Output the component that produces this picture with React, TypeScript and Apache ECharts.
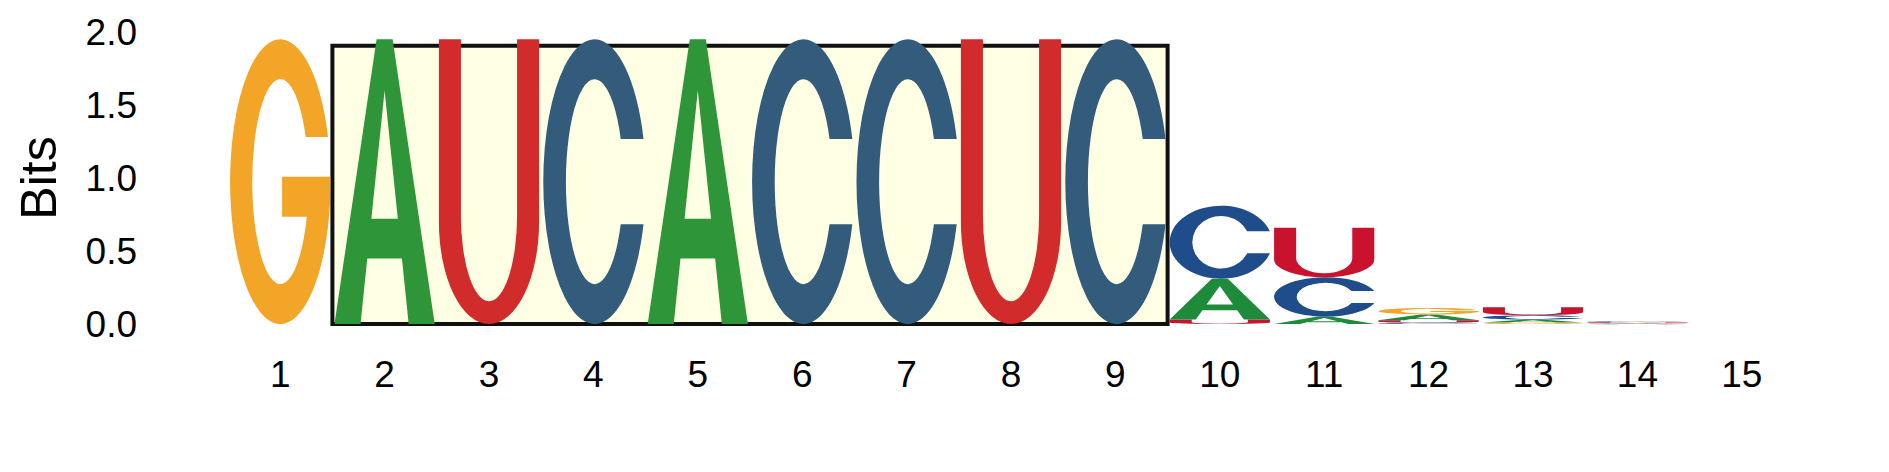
import React, { useEffect, useRef } from "react";
import * as echarts from "echarts";

// sequence logo: information content (bits) of each nucleotide per position
const positions = ["1", "2", "3", "4", "5", "6", "7", "8", "9", "10", "11", "12", "13", "14", "15"];
const bitsA = [0, 1.95, 0, 0, 1.95, 0, 0, 0, 0, 0.28, 0.05, 0.04, 0.02, 0.002, 0];
const bitsC = [0, 0, 0, 1.95, 0, 1.95, 1.95, 0, 1.95, 0.5, 0.27, 0.01, 0.03, 0.008, 0];
const bitsG = [1.95, 0, 0, 0, 0, 0, 0, 0, 0, 0, 0, 0.045, 0.01, 0.002, 0];
const bitsU = [0, 0, 1.95, 0, 0, 0, 0, 1.95, 0, 0.03, 0.34, 0.015, 0.055, 0.006, 0];
const yTicks = [0, 0.5, 1, 1.5, 2];

// highlighted motif: positions 2..9
const highlightFrom = 2;
const highlightTo = 9;
const highlightTop = 1.906;

const letters = ["A", "C", "G", "U"];
const glyphs: Record<string, string> = {
    A: "M0 100 L42 0 L58 0 L100 100 L74 100 L67.3 77 L32.7 77 L26 100 Z M36.8 63 L63.2 63 L50 18 Z",
    C: "M97.7 35 A50 50 0 1 0 97.7 65 L75.5 65 A28 36 0 1 1 75.5 35 Z",
    G: "M97.7 33 A50 50 0 1 0 99.7 56 L100 47 L52 47 L52 61 L76.6 61 A28 36 0 1 1 75.5 33 Z",
    U: "M0 0 L22 0 L22 62 A28 30 0 0 0 78 62 L78 0 L100 0 L100 64 A50 36 0 0 1 0 64 Z",
};
const insideColors: Record<string, string> = {
    A: "#2e9638",
    C: "#335b7b",
    G: "#f2a526",
    U: "#d22b2b",
};
const outsideColors: Record<string, string> = {
    A: "#1e8b3b",
    C: "#1f4c8b",
    G: "#f2a526",
    U: "#c8122e",
};

const FONT = "'Liberation Sans', Arial, sans-serif";

const App: React.FC = () => {
    const chartRef = useRef<HTMLDivElement>(null);

    useEffect(() => {
        document.body.style.margin = "0";
        const chart = echarts.init(chartRef.current!, null, { renderer: "svg" });

        const table: Record<string, number[]> = { A: bitsA, C: bitsC, G: bitsG, U: bitsU };
        // stack letters: smallest at the bottom
        const stacks: number[][] = [];
        positions.forEach((_, i) => {
            const col = letters
                .map((l, k) => ({ k, h: table[l][i] }))
                .filter((d) => d.h > 0)
                .sort((a, b) => a.h - b.h);
            let base = 0;
            col.forEach((d) => {
                stacks.push([i, base, base + d.h, d.k]);
                base += d.h;
            });
        });

        chart.setOption({
            animation: false,
            grid: { left: 228, right: 95, top: 32, bottom: 148 },
            xAxis: {
                type: "category",
                data: positions,
                axisLine: { show: false },
                axisTick: { show: false },
                axisLabel: { fontSize: 37, color: "#000", fontFamily: FONT, margin: 32 },
            },
            yAxis: {
                type: "value",
                min: yTicks[0],
                max: yTicks[yTicks.length - 1],
                interval: 0.5,
                name: "Bits",
                nameLocation: "middle",
                nameGap: 164,
                nameTextStyle: { fontSize: 50, color: "#000", fontFamily: FONT },
                axisLine: { show: false },
                axisTick: { show: false },
                splitLine: { show: false },
                axisLabel: {
                    fontSize: 37,
                    color: "#000",
                    fontFamily: FONT,
                    margin: 91,
                    formatter: (v: number) => v.toFixed(1),
                },
            },
            series: [
                {
                    type: "custom",
                    z: 1,
                    data: [[highlightFrom - 1, highlightTo - 1, 0, highlightTop]],
                    renderItem: (params: any, api: any) => {
                        const a = api.coord([api.value(0), api.value(2)]);
                        const b = api.coord([api.value(1), api.value(3)]);
                        const bw = api.size([1, 0])[0];
                        return {
                            type: "rect",
                            shape: { x: a[0] - bw / 2, y: b[1], width: b[0] - a[0] + bw, height: a[1] - b[1] },
                            style: { fill: "#ffffe4", stroke: "#111", lineWidth: 4 },
                        };
                    },
                },
                {
                    type: "custom",
                    z: 2,
                    data: stacks,
                    renderItem: (params: any, api: any) => {
                        const x = api.value(0);
                        const p0 = api.coord([x, api.value(1)]);
                        const p1 = api.coord([x, api.value(2)]);
                        const bw = api.size([1, 0])[0] * 0.96;
                        const l = letters[api.value(3)];
                        const inside = x >= highlightFrom - 1 && x <= highlightTo - 1;
                        return {
                            type: "path",
                            shape: {
                                pathData: glyphs[l],
                                x: p0[0] - bw / 2,
                                y: p1[1],
                                width: bw,
                                height: Math.max(p0[1] - p1[1], 0.5),
                                layout: "cover",
                            },
                            style: { fill: inside ? insideColors[l] : outsideColors[l] },
                        };
                    },
                },
            ],
        });

        return () => {
            chart.dispose();
        };
    }, []);

    return <div ref={chartRef} style={{ width: "1889px", height: "472px" }} />;
};

export default App;
